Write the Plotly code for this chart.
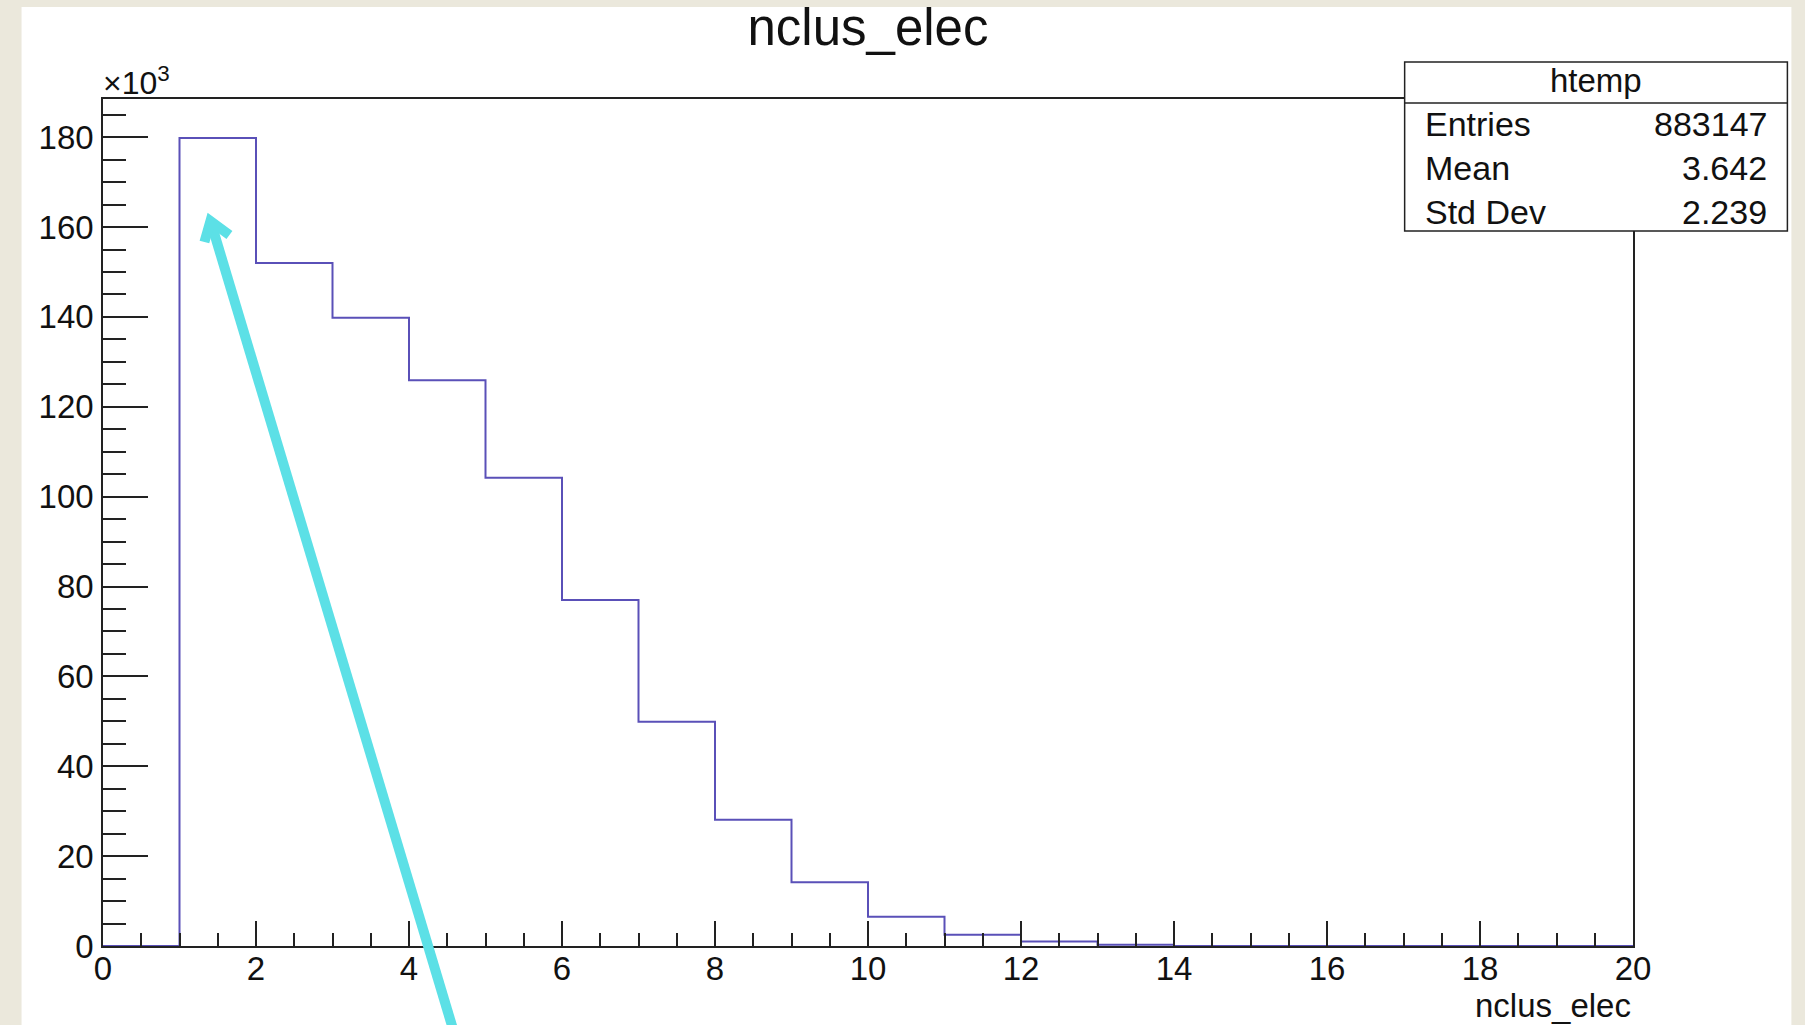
import plotly.graph_objects as go

# ---- data ----
bin_low_edges = [0, 1, 2, 3, 4, 5, 6, 7, 8, 9, 10, 11, 12, 13, 14, 15, 16, 17, 18, 19]
bin_counts = [0, 179800, 152000, 139800, 125900, 104200, 77000, 49900, 28100,
              14200, 6500, 2500, 1000, 300, 0, 0, 0, 0, 0, 0]
x_upper = 20
hist_name = "htemp"
stat_labels = ["Entries", "Mean", "Std Dev"]
stat_values = ["883147", "3.642", "2.239"]
title_text = "nclus_elec"
x_title = "nclus_elec"

W, H = 1805, 1025
L, R, T, B = 102.5, 1633.5, 99, 946   # plot area pixel box


def fx(p):
    return (p - L) / (R - L)


def fy(p):
    return (B - p) / (B - T)


xs = bin_low_edges + [x_upper]
ys = [c / 1000 for c in bin_counts] + [0]

fig = go.Figure()
fig.add_trace(go.Scatter(
    x=xs, y=ys, mode="lines", line=dict(shape="hv", color="#5a50b8", width=2),
    showlegend=False, hoverinfo="skip"))

font = "Liberation Sans, Arial, Helvetica, sans-serif"
axcol = "#222222"

fig.update_layout(
    width=W, height=H,
    margin=dict(l=L, r=W - R, t=T, b=H - B, pad=0),
    paper_bgcolor="#ebe8dc",
    plot_bgcolor="white",
    font=dict(family=font, size=33, color="#111111"),
    title=dict(text=title_text, x=868 / W, xref="container", xanchor="center",
               y=1 - 27 / H, yref="container", yanchor="middle",
               font=dict(size=51, color="#111111")),
    showlegend=False,
)

fig.update_xaxes(
    range=[0, 20], tickmode="linear", tick0=0, dtick=2,
    ticks="inside", ticklen=25, tickwidth=1.5, tickcolor=axcol,
    minor=dict(dtick=0.5, ticks="inside", ticklen=13, tickwidth=1.5, tickcolor=axcol),
    showline=True, linecolor=axcol, linewidth=1.5, mirror=True,
    showgrid=False, zeroline=False,
    tickfont=dict(size=33), ticklabelstandoff=-7,
)
fig.update_yaxes(
    range=[0, 188.5], tickmode="linear", tick0=0, dtick=20,
    ticks="inside", ticklen=45, tickwidth=1.5, tickcolor=axcol,
    minor=dict(dtick=5, ticks="inside", ticklen=23, tickwidth=1.5, tickcolor=axcol),
    showline=True, linecolor=axcol, linewidth=1.5, mirror=True,
    showgrid=False, zeroline=False,
    tickfont=dict(size=33), ticklabelstandoff=1,
)

shapes = []
# white page area over the beige background
shapes.append(dict(type="rect", xref="paper", yref="paper", layer="below",
                   x0=fx(21), x1=fx(1792), y0=fy(1030), y1=fy(7),
                   fillcolor="white", line=dict(width=0)))
# stats box
shapes.append(dict(type="rect", xref="paper", yref="paper", layer="above",
                   x0=fx(1405), x1=fx(1788), y0=fy(231), y1=fy(62),
                   fillcolor="white", line=dict(color=axcol, width=1.5)))
shapes.append(dict(type="line", xref="paper", yref="paper", layer="above",
                   x0=fx(1405), x1=fx(1788), y0=fy(103), y1=fy(103),
                   line=dict(color=axcol, width=1.5)))
# cyan hand-drawn arrow
cyan = "#5ce0e6"
shapes.append(dict(type="line", xref="paper", yref="paper", layer="above",
                   x0=fx(453), y0=fy(1030), x1=fx(211), y1=fy(224),
                   line=dict(color=cyan, width=10)))
shapes.append(dict(type="path", xref="paper", yref="paper", layer="above",
                   path=f"M {fx(204)},{fy(242)} L {fx(210)},{fy(221)} L {fx(229)},{fy(235)}",
                   line=dict(color=cyan, width=10)))
fig.update_layout(shapes=shapes)

ann = []
ann.append(dict(text=hist_name, xref="paper", yref="paper",
                x=fx(1596), y=fy(81), xanchor="center", yanchor="middle",
                showarrow=False, font=dict(size=33)))
row_y = [124, 168, 212]
for lab, val, yy in zip(stat_labels, stat_values, row_y):
    ann.append(dict(text=lab, xref="paper", yref="paper", x=fx(1423), y=fy(yy),
                    xanchor="left", yanchor="middle", showarrow=False,
                    font=dict(size=34)))
    ann.append(dict(text=val, xref="paper", yref="paper", x=fx(1770), y=fy(yy),
                    xanchor="right", yanchor="middle", showarrow=False,
                    font=dict(size=34)))
ann.append(dict(text="×10<sup>3</sup>", xref="paper", yref="paper",
                x=fx(100), y=fy(103), xanchor="left", yanchor="bottom",
                showarrow=False, font=dict(size=32)))
ann.append(dict(text=x_title, xref="paper", yref="paper",
                x=1, y=fy(1006), xanchor="right", yanchor="middle",
                showarrow=False, font=dict(size=33)))
fig.update_layout(annotations=ann)

fig.write_html("out.html")
